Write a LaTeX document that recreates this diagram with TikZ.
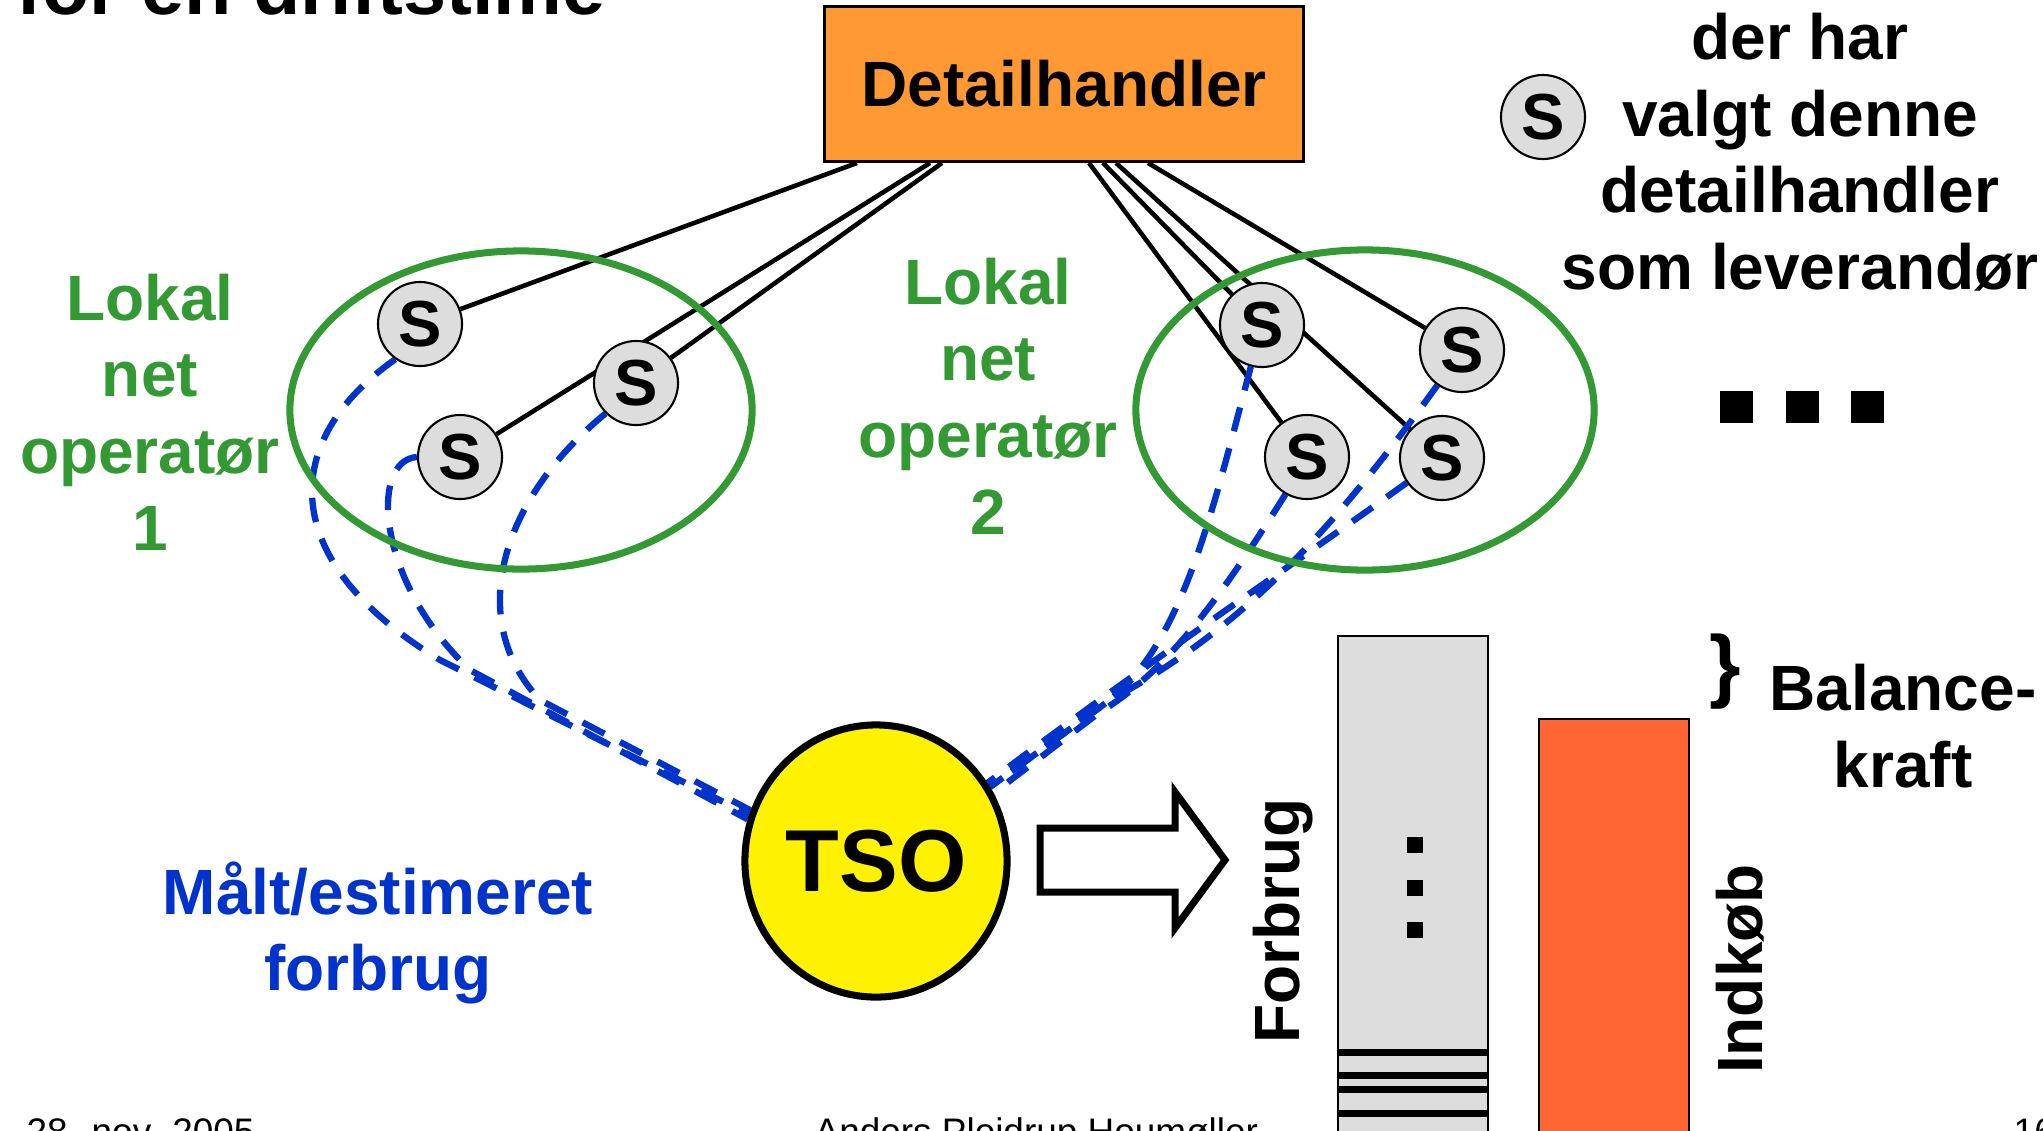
\documentclass[tikz,border=0pt]{standalone}
\usepackage{fontspec}
\setmainfont{Liberation Sans}
\usetikzlibrary{calc,positioning,shapes.geometric,backgrounds}
\definecolor{dhorange}{HTML}{FF9933}
\definecolor{netgreen}{HTML}{339933}
\definecolor{maaltblue}{HTML}{0033CC}
\definecolor{sgray}{HTML}{DDDDDD}
\definecolor{indkob}{HTML}{FF6633}
\tikzset{
	snode/.style={circle,draw,line width=0.6pt,fill=sgray,minimum size=0.84cm,inner sep=0pt,font=\bfseries\fontsize{18.5}{18.5}\selectfont},
	net/.style={ellipse,draw=netgreen,line width=2pt},
	wire/.style={line width=1.3pt},
	maalt/.style={draw=maaltblue,line width=1.8pt,dash pattern=on 7pt off 5pt},
	lbl/.style={font=\bfseries\fontsize{18.2}{21.8}\selectfont,align=center,inner sep=0pt},
	foot/.style={font=\fontsize{10.5}{10.5}\selectfont,anchor=base west,inner sep=0pt},
}

\begin{document}
\begin{tikzpicture}[x=0.01cm,y=-0.01cm]
	\useasboundingbox (0,0) rectangle (2043,1130);
	\clip (0,0) rectangle (2043,1130);
	\node[anchor=base west,inner sep=0pt,font=\bfseries\fontsize{22}{22}\selectfont] (titel) at (16,14) {for en driftstime};
	\node[draw,fill=dhorange,line width=0.8pt,minimum width=4.78cm,minimum height=1.55cm,lbl] (dh) at (1064,84) {Detailhandler};
	% lokale net
	\node[net,minimum width=4.62cm,minimum height=3.18cm] (net1) at (521,410) {};
	\node[net,minimum width=4.58cm,minimum height=3.2cm] (net2) at (1365,410) {};
	\node[lbl,text=netgreen] (lno1) at (150,412) {Lokal\\net\\operatør\\1};
	\node[lbl,text=netgreen] (lno2) at (988,396) {Lokal\\net\\operatør\\2};
	\node[snode] (s1) at (420,324) {S};
	\node[snode] (s2) at (636,383) {S};
	\node[snode] (s3) at (460,457) {S};
	\node[snode] (r1) at (1262,325) {S};
	\node[snode] (r2) at (1462,350) {S};
	\node[snode] (r3) at (1307,457) {S};
	\node[snode] (r4) at (1442,458) {S};
	\node[draw,ellipse,fill=yellow,line width=2pt,minimum width=2.62cm,minimum height=2.72cm,font=\bfseries\fontsize{25}{25}\selectfont,inner sep=0pt] (tso) at (876,861) {TSO};
	\node[lbl,text=maaltblue] (maalt) at (378,933) {Målt/estimeret\\forbrug};
	\begin{scope}[on background layer]
		\draw[wire] ($(dh.south)+(-207,0)$) -- (s1);
		\draw[wire] ($(dh.south)+(-134,0)$) -- (s3);
		\draw[wire] ($(dh.south)+(-122,0)$) -- (s2);
		\draw[wire] ($(dh.south)+(25,0)$) -- (r3);
		\draw[wire] ($(dh.south)+(39,0)$) -- (r1);
		\draw[wire] ($(dh.south)+(52,0)$) -- (r4);
		\draw[wire] ($(dh.south)+(84,0)$) -- (r2);
		\draw[maalt] (s1.235) .. controls (280,440) and (275,560) .. (440,660) -- (tso.160);
		\draw[maalt] (s3.west) .. controls (370,460) and (375,580) .. (470,670) -- (tso.162);
		\draw[maalt] (s2.225) .. controls (500,500) and (465,620) .. (540,700) -- (tso.158);
		\draw[maalt] (r1.255) .. controls (1215,500) and (1185,640) .. (1110,700) -- (tso.33);
		\draw[maalt] (r3.240) .. controls (1225,590) and (1170,670) .. (1100,712) -- (tso.30);
		\draw[maalt] (r4.215) .. controls (1300,560) and (1150,660) .. (tso.35);
		\draw[maalt] (r2.235) .. controls (1340,520) and (1250,625) .. (1110,700) -- (tso.33);
	\end{scope}
	% forklaring
	\node[snode] (sforkl) at (1543,117) {S};
	\node[lbl] (forkl) at (1800,152) {der har\\valgt denne\\detailhandler\\som leverandør};
	\foreach \x in {1720,1786,1851}
		\fill (\x,391) rectangle ++(33,32);
	% pil og søjler
	\draw[line width=2pt,fill=white] (1040,828) -- (1175,828) -- (1175,792) -- (1225,860) -- (1175,928) -- (1175,892) -- (1040,892) -- cycle;
	\draw[fill=sgray,line width=0.6pt] (1338,636) rectangle (1488,1140);
	\foreach \y in {1052,1075,1089,1113}
		\draw[line width=2pt] (1338,\y) -- (1488,\y);
	\foreach \y in {837,880,922}
		\fill (1407,\y) rectangle ++(16,16);
	\draw[fill=indkob,line width=0.6pt] (1539,719) rectangle (1689,1140);
	\node[lbl,rotate=90] (forbrug) at (1283,921) {Forbrug};
	\node[lbl,rotate=90] (indkob) at (1740,969) {Indkøb};
	\node[inner sep=0pt,font=\bfseries\fontsize{23}{23}\selectfont] (klamme) at (1725,672) {\}};
	\node[lbl] (balance) at (1903,726) {Balance-\\kraft};
	% sidefod
	\node[foot] (dato) at (26,1144) {28. nov. 2005};
	\node[foot] (forfatter) at (814,1144) {Anders Plejdrup Houmøller};
	\node[foot] (side) at (2013,1144) {16};
\end{tikzpicture}
\end{document}
